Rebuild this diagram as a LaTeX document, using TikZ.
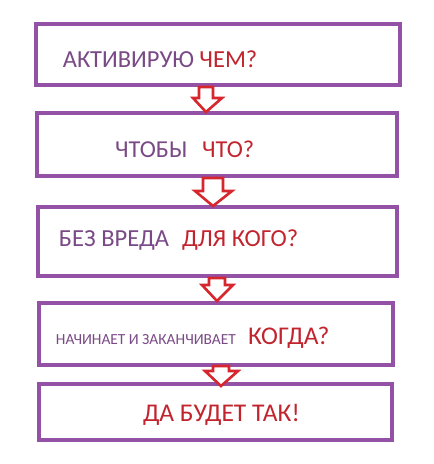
\documentclass[tikz,border=0pt]{standalone}
\usepackage{fontspec}
\setmainfont{Carlito}
\definecolor{boxpurple}{HTML}{9352A5}
\definecolor{txtpurple}{HTML}{7A4A86}
\definecolor{txtred}{HTML}{C2242E}
\definecolor{arrred}{HTML}{D6262E}
\tikzset{
  box/.style={draw=boxpurple, line width=4pt, fill=white, inner sep=0pt, outer sep=0pt},
  blockarrow/.style={draw=arrred, line width=2.6pt, fill=white, line join=miter},
  lbl/.style={anchor=base west, inner sep=0pt, outer sep=0pt},
}
\begin{document}
\begin{tikzpicture}[x=1pt,y=-1pt]
\useasboundingbox[fill=white] (0,0) rectangle (434,464);
% boxes
\node[box, minimum width=364pt, minimum height=61pt] (b1) at (218,54.5) {};
\node[box, minimum width=360pt, minimum height=63pt] (b2) at (217,144.5) {};
\node[box, minimum width=359pt, minimum height=69pt] (b3) at (217.5,241.5) {};
\node[box, minimum width=354pt, minimum height=62pt] (b4) at (216,334) {};
\node[box, minimum width=353pt, minimum height=56pt] (b5) at (215.5,412) {};
% arrows
\draw[blockarrow] (199,87) -- (213,87) -- (213,98) -- (222,98) -- (206,112) -- (193,98) -- (199,98) -- cycle;
\draw[blockarrow] (203,178) -- (223,178) -- (223,191) -- (232,191) -- (213,206) -- (195,191) -- (203,191) -- cycle;
\draw[blockarrow] (209,278) -- (225,278) -- (225,285) -- (233,285) -- (217,301) -- (202,285) -- (209,285) -- cycle;
\draw[blockarrow] (213,366) -- (229,366) -- (229,371) -- (238,371) -- (221,386) -- (205,371) -- (213,371) -- cycle;
% texts
\node[lbl, font=\fontsize{24.5}{28}\selectfont] (t1) at (63,67) {\textcolor{txtpurple}{АКТИВИРУЮ} \textcolor{txtred}{ЧЕМ?}};
\node[lbl, font=\fontsize{24.3}{28}\selectfont, text=txtpurple] (t2a) at (115,157) {ЧТОБЫ};
\node[lbl, font=\fontsize{24.3}{28}\selectfont, text=txtred] (t2b) at (202,157) {ЧТО?};
\node[lbl, font=\fontsize{24.5}{28}\selectfont, text=txtpurple] (t3a) at (59,246) {БЕЗ ВРЕДА};
\node[lbl, font=\fontsize{24.5}{28}\selectfont, text=txtred] (t3b) at (182,246) {ДЛЯ КОГО?};
\node[lbl, font=\fontsize{15.4}{18}\selectfont, text=txtpurple] (t4) at (56,344) {НАЧИНАЕТ И ЗАКАНЧИВАЕТ};
\node[lbl, font=\fontsize{25.5}{28}\selectfont, text=txtred] (t5) at (248,344) {КОГДА?};
\node[lbl, font=\fontsize{25.5}{28}\selectfont, text=txtred] (t6) at (143,421) {ДА БУДЕТ ТАК!};
\end{tikzpicture}
\end{document}
